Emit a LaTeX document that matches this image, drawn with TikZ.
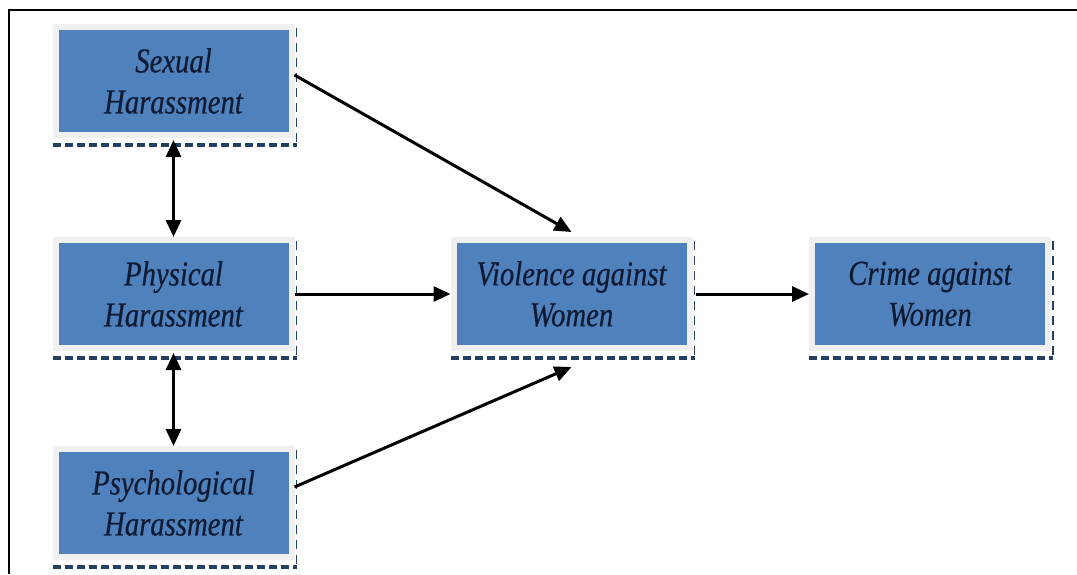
\documentclass[tikz,border=0pt]{standalone}
\usepackage{fontspec}
\usepackage{tikz}
\usetikzlibrary{arrows.meta}
\newfontfamily\boxfont[FakeStretch=0.82,FakeBold=0.4]{Liberation Serif}
\definecolor{boxblue}{HTML}{4F81BD}
\definecolor{boxrim}{HTML}{F0F0F0}
\definecolor{boxtext}{HTML}{0F1A33}
\definecolor{dashnavy}{HTML}{243F60}

\begin{document}
\begin{tikzpicture}[x=1pt,y=-1pt,
    harbox/.style={rectangle,fill=boxblue,draw=boxrim,line width=6pt,
      minimum width=236pt,minimum height=108pt,inner sep=0pt,align=center,
      text=boxtext,font=\boxfont\itshape\fontsize{35}{41}\selectfont},
    bottomdash/.style={draw=dashnavy,line width=4pt,dash pattern=on 8pt off 4pt},
    sidedash/.style={draw=dashnavy,line width=1.5pt,dash pattern=on 9pt off 6pt},
    link/.style={draw=black,line width=3pt,-{Triangle[length=17pt,width=15pt]}},
    twolink/.style={draw=black,line width=3pt,{Triangle[length=17pt,width=15pt]}-{Triangle[length=17pt,width=15pt]}}]

    \useasboundingbox (0,0) rectangle (1077,574);
    \draw[line width=2pt] (9,574) -- (9,10) -- (1077,10);

    \node (sex) at (173.5,81) [harbox] {Sexual\\Harassment};
    \node (phy) at (173.5,294) [harbox] {Physical\\Harassment};
    \node (psy) at (173.5,503) [harbox] {Psychological\\Harassment};
    \node (vio) at (571.5,294) [harbox] {Violence against\\Women};
    \node (cri) at (930,294) [harbox] {Crime against\\Women};

    \foreach \n in {sex,phy,psy,vio,cri}{
      \draw[bottomdash] ([yshift=-7pt]\n.south west) -- ([xshift=2pt,yshift=-7pt]\n.south east);
      \draw[sidedash] ([xshift=2pt,yshift=-4pt]\n.north east) -- ([xshift=2pt,yshift=-7pt]\n.south east);
    }

    \draw[link] ([yshift=6pt]sex.east) -- ([yshift=5pt]vio.north);
    \draw[link] (phy.east) -- (vio.west);
    \draw[link] ([yshift=16pt]psy.east) -- ([yshift=-16pt]vio.south);
    \draw[link] ([xshift=3pt]vio.east) -- (cri.west);

    \draw[twolink,shorten <=2pt] (sex.south) -- (phy.north);
    \draw[twolink,shorten <=2pt] (phy.south) -- (psy.north);
  \end{tikzpicture}
\end{document}
